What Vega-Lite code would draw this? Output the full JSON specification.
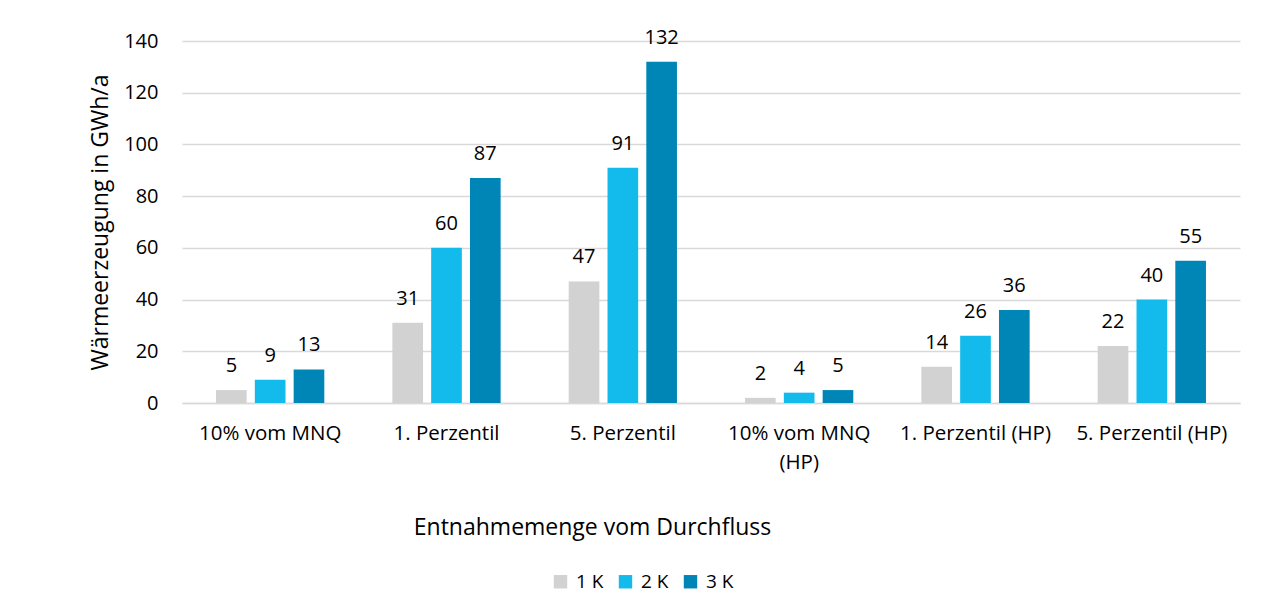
{
  "$schema": "https://vega.github.io/schema/vega-lite/v6.json",
  "width": 1058,
  "height": 362,
  "autosize": {"type": "none"},
  "padding": {"left": 182, "top": 41, "right": 26, "bottom": 207},
  "background": "white",
  "data": {
    "values": [
      {"kategorie": "10% vom MNQ", "delta": "1 K", "wert": 5},
      {"kategorie": "10% vom MNQ", "delta": "2 K", "wert": 9},
      {"kategorie": "10% vom MNQ", "delta": "3 K", "wert": 13},
      {"kategorie": "1. Perzentil", "delta": "1 K", "wert": 31},
      {"kategorie": "1. Perzentil", "delta": "2 K", "wert": 60},
      {"kategorie": "1. Perzentil", "delta": "3 K", "wert": 87},
      {"kategorie": "5. Perzentil", "delta": "1 K", "wert": 47},
      {"kategorie": "5. Perzentil", "delta": "2 K", "wert": 91},
      {"kategorie": "5. Perzentil", "delta": "3 K", "wert": 132},
      {"kategorie": "10% vom MNQ (HP)", "delta": "1 K", "wert": 2},
      {"kategorie": "10% vom MNQ (HP)", "delta": "2 K", "wert": 4},
      {"kategorie": "10% vom MNQ (HP)", "delta": "3 K", "wert": 5},
      {"kategorie": "1. Perzentil (HP)", "delta": "1 K", "wert": 14},
      {"kategorie": "1. Perzentil (HP)", "delta": "2 K", "wert": 26},
      {"kategorie": "1. Perzentil (HP)", "delta": "3 K", "wert": 36},
      {"kategorie": "5. Perzentil (HP)", "delta": "1 K", "wert": 22},
      {"kategorie": "5. Perzentil (HP)", "delta": "2 K", "wert": 40},
      {"kategorie": "5. Perzentil (HP)", "delta": "3 K", "wert": 55}
    ]
  },
  "encoding": {
    "x": {
      "field": "kategorie",
      "type": "nominal",
      "sort": null,
      "scale": {"paddingInner": 0.386, "paddingOuter": 0.193},
      "axis": {
        "title": "Entnahmemenge vom Durchfluss",
        "labelAngle": 0,
        "labelFontSize": 20.5,
        "labelPadding": 20,
        "labelLineHeight": 29,
        "labelExpr": "datum.label == '10% vom MNQ (HP)' ? ['10% vom MNQ', '(HP)'] : datum.label",
        "ticks": false,
        "domain": true,
        "domainColor": "#d9d9d9",
        "domainWidth": 1.5,
        "titleX": 410,
        "titleY": 124,
        "titleBaseline": "middle",
        "titleAlign": "center"
      }
    },
    "xOffset": {
      "field": "delta",
      "type": "nominal",
      "scale": {"paddingInner": 0.21, "paddingOuter": 0}
    },
    "y": {
      "field": "wert",
      "type": "quantitative",
      "scale": {"domain": [0, 140], "nice": false},
      "axis": {
        "title": "Wärmeerzeugung in GWh/a",
        "values": [0, 20, 40, 60, 80, 100, 120, 140],
        "domain": false,
        "ticks": false,
        "grid": true,
        "gridColor": "#d9d9d9",
        "gridWidth": 1.5,
        "labelFontSize": 20,
        "labelPadding": 24,
        "titleX": -82,
        "titleY": 181,
        "titleAlign": "center",
        "titleBaseline": "middle"
      }
    }
  },
  "layer": [
    {
      "mark": {"type": "bar"},
      "encoding": {
        "color": {
          "field": "delta",
          "type": "nominal",
          "scale": {"domain": ["1 K", "2 K", "3 K"], "range": ["#d2d2d2", "#13bbec", "#0086b6"]},
          "legend": {
            "title": null,
            "orient": "none",
            "direction": "horizontal",
            "legendX": 369,
            "legendY": 531,
            "symbolType": "square",
            "symbolSize": 180,
            "symbolStrokeWidth": 0,
            "labelFontSize": 19,
            "labelOffset": 6,
            "columnPadding": 12,
            "padding": 0
          }
        }
      }
    },
    {
      "mark": {"type": "text", "baseline": "alphabetic", "dy": -18, "fontSize": 20, "color": "#000000"},
      "encoding": {"text": {"field": "wert", "type": "quantitative"}}
    }
  ],
  "config": {
    "font": "Open Sans",
    "view": {"stroke": null},
    "axis": {
      "labelFont": "Open Sans",
      "labelColor": "#000000",
      "titleFont": "Open Sans",
      "titleFontSize": 23,
      "titleFontWeight": "normal",
      "titleColor": "#000000"
    },
    "legend": {"labelFont": "Open Sans", "labelColor": "#000000"},
    "text": {"font": "Open Sans"}
  }
}
